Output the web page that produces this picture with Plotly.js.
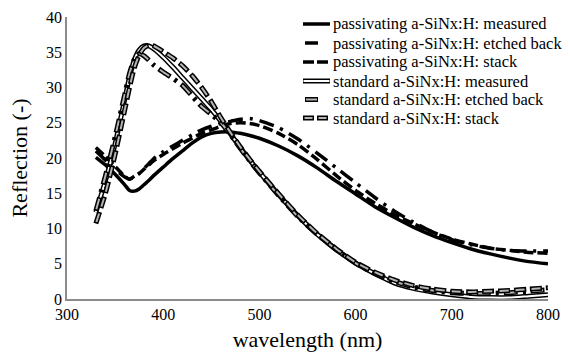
<!DOCTYPE html>
<html>
<head>
<meta charset="utf-8">
<script src="https://cdn.plot.ly/plotly-3.0.1.min.js"></script>
</head>
<body style="margin:0">
<div id="chart" style="width:570px;height:357px"></div>
<script>
const wavelength = [330,340,350,360,365,370,375,380,385,390,400,410,420,430,440,450,460,470,480,490,500,520,540,560,580,600,620,640,660,680,700,720,740,760,780,800];
const pasMeasured = [20.1,19.0,17.7,16.2,15.4,15.3,15.6,16.2,16.8,17.5,18.7,19.9,21.0,22.1,23.0,23.5,23.7,23.7,23.5,23.2,22.8,21.7,20.3,18.6,16.7,14.9,13.1,11.6,10.2,9.0,8.0,7.1,6.4,5.8,5.3,5.0];
const pasEtched = [21.0,19.7,18.4,17.3,17.0,17.3,17.8,18.5,19.2,19.9,20.9,21.7,22.5,23.3,24.0,24.5,24.9,25.2,25.5,25.6,25.3,24.3,22.7,20.7,18.6,16.5,14.4,12.5,10.9,9.5,8.4,7.7,7.2,6.9,6.8,6.8];
const pasStack = [21.5,20.2,18.8,17.4,17.0,17.4,17.8,18.4,19.0,19.6,20.5,21.3,22.1,22.8,23.5,24.0,24.5,24.9,25.0,24.9,24.6,23.5,21.9,19.8,17.5,15.4,13.6,12.0,10.7,9.5,8.5,7.8,7.2,6.9,6.6,6.5];
const stdMeasured = [12.3,16.8,22.0,28.3,31.5,33.9,35.3,35.9,35.9,35.5,34.3,32.9,31.4,29.9,28.4,26.9,25.2,23.4,21.5,19.7,18.0,14.8,11.8,9.2,7.0,5.1,3.6,2.3,1.5,1.0,0.6,0.3,0.2,0.2,0.4,0.6];
const stdEtched = [12.5,17.5,23.0,29.0,32.0,34.0,34.8,34.5,33.9,33.2,32.2,31.3,30.3,28.8,27.3,26.2,25.0,23.3,21.4,19.6,17.9,14.7,11.7,9.2,7.0,5.1,3.6,2.5,1.7,1.2,0.9,0.8,0.8,0.9,1.1,1.3];
const stdStack = [10.7,15.0,20.5,26.8,30.0,32.8,34.6,35.6,36.0,35.9,35.1,34.2,33.1,31.7,30.0,28.0,25.7,23.6,21.6,19.8,18.1,14.9,11.9,9.3,7.1,5.2,3.8,2.7,1.9,1.4,1.1,1.0,1.1,1.2,1.4,1.6];
const seriesNames = [
  "passivating a-SiNx:H: measured",
  "passivating a-SiNx:H: etched back",
  "passivating a-SiNx:H: stack",
  "standard a-SiNx:H: measured",
  "standard a-SiNx:H: etched back",
  "standard a-SiNx:H: stack"
];
const xTicks = [300,400,500,600,700,800];
const yTicks = [0,5,10,15,20,25,30,35,40];

(function(){
var serifFont = 'Liberation Serif';
var sp = {shape:'spline', smoothing:0.6};
function tr(y, color, width, dash){
  return {x: wavelength, y: y, type:'scatter', mode:'lines', hoverinfo:'skip', showlegend:false,
    line: Object.assign({color:color, width:width, dash:dash}, sp)};
}
var DD_OUT = "14px,5px,3px,5px", DD_IN = "0px,1.5px,11px,14.5px";
var DA_OUT = "12px,4px", DA_IN = "0px,1.5px,9px,5.5px";
var traces = [
  tr(pasMeasured, '#000', 3.5, 'solid'),
  tr(pasEtched, '#000', 3.5, "15px,7px,3px,7px"),
  tr(pasStack, '#000', 3.5, "10px,4px"),
  tr(stdMeasured, '#000', 5, 'solid'),
  tr(stdMeasured, '#fff', 2, 'solid'),
  tr(stdEtched, '#000', 5, DD_OUT),
  tr(stdEtched, '#b4b4b4', 2, DD_IN),
  tr(stdStack, '#000', 5, DA_OUT),
  tr(stdStack, '#b4b4b4', 2, DA_IN)
];

var PL = 67, PW = 481, PB = 299, PH = 282;
function toX(v){ return (v - PL) / PW; }
function toY(v){ return (PB - v) / PH; }
var rows = [24, 43, 62, 81, 99.5, 118];
var shp = [], ann = [];
function seg(x0, x1, y, color, width, dash){
  shp.push({type:'line', xref:'paper', yref:'paper', x0:toX(x0), x1:toX(x1), y0:toY(y), y1:toY(y),
    line:{color:color, width:width, dash:dash||'solid'}, layer:'above'});
}
seg(303, 330, rows[0], '#000', 3.5);
seg(305, 318, rows[1], '#000', 3.5);
seg(303, 330, rows[2], '#000', 3.5, "11px,3px");
seg(303, 330, rows[3], '#000', 5); seg(303.5, 329.5, rows[3], '#fff', 2);
seg(305, 318, rows[4], '#000', 5); seg(306, 317, rows[4], '#b4b4b4', 2);
seg(303, 330, rows[5], '#000', 5, "11px,3px"); seg(303, 330, rows[5], '#b4b4b4', 2, "0px,1.5px,8px,4.5px");
seriesNames.forEach(function(n, i){
  ann.push({text:n, xref:'paper', yref:'paper', x:toX(331), y:toY(rows[i]), xanchor:'left', yanchor:'middle',
    showarrow:false, font:{family:serifFont, size:16.5, color:'#000'}});
});

var lay = {
  width:570, height:357,
  margin:{l:67, r:22, t:17, b:58},
  paper_bgcolor:'#fff', plot_bgcolor:'#fff',
  font:{family:serifFont, color:'#000', size:16},
  showlegend:false,
  xaxis:{range:[300,800], tickvals:xTicks, ticktext:xTicks.map(String), showgrid:false, zeroline:false,
    showline:true, linecolor:'#8c8c8c', linewidth:1.5, ticks:'', tickfont:{family:serifFont, size:16, color:'#000'},
    title:{text:'wavelength (nm)', font:{family:serifFont, size:22, color:'#000'}, standoff:10}},
  yaxis:{range:[0,40], tickvals:yTicks, ticktext:yTicks.map(String), showgrid:false, zeroline:false,
    showline:true, linecolor:'#8c8c8c', linewidth:1.5, ticks:'', tickfont:{family:serifFont, size:16, color:'#000'},
    title:{text:'Reflection (-)', font:{family:serifFont, size:22, color:'#000'}, standoff:12}},
  shapes:shp, annotations:ann
};
Plotly.newPlot('chart', traces, lay, {displayModeBar:false});
})();
</script>
</body>
</html>
